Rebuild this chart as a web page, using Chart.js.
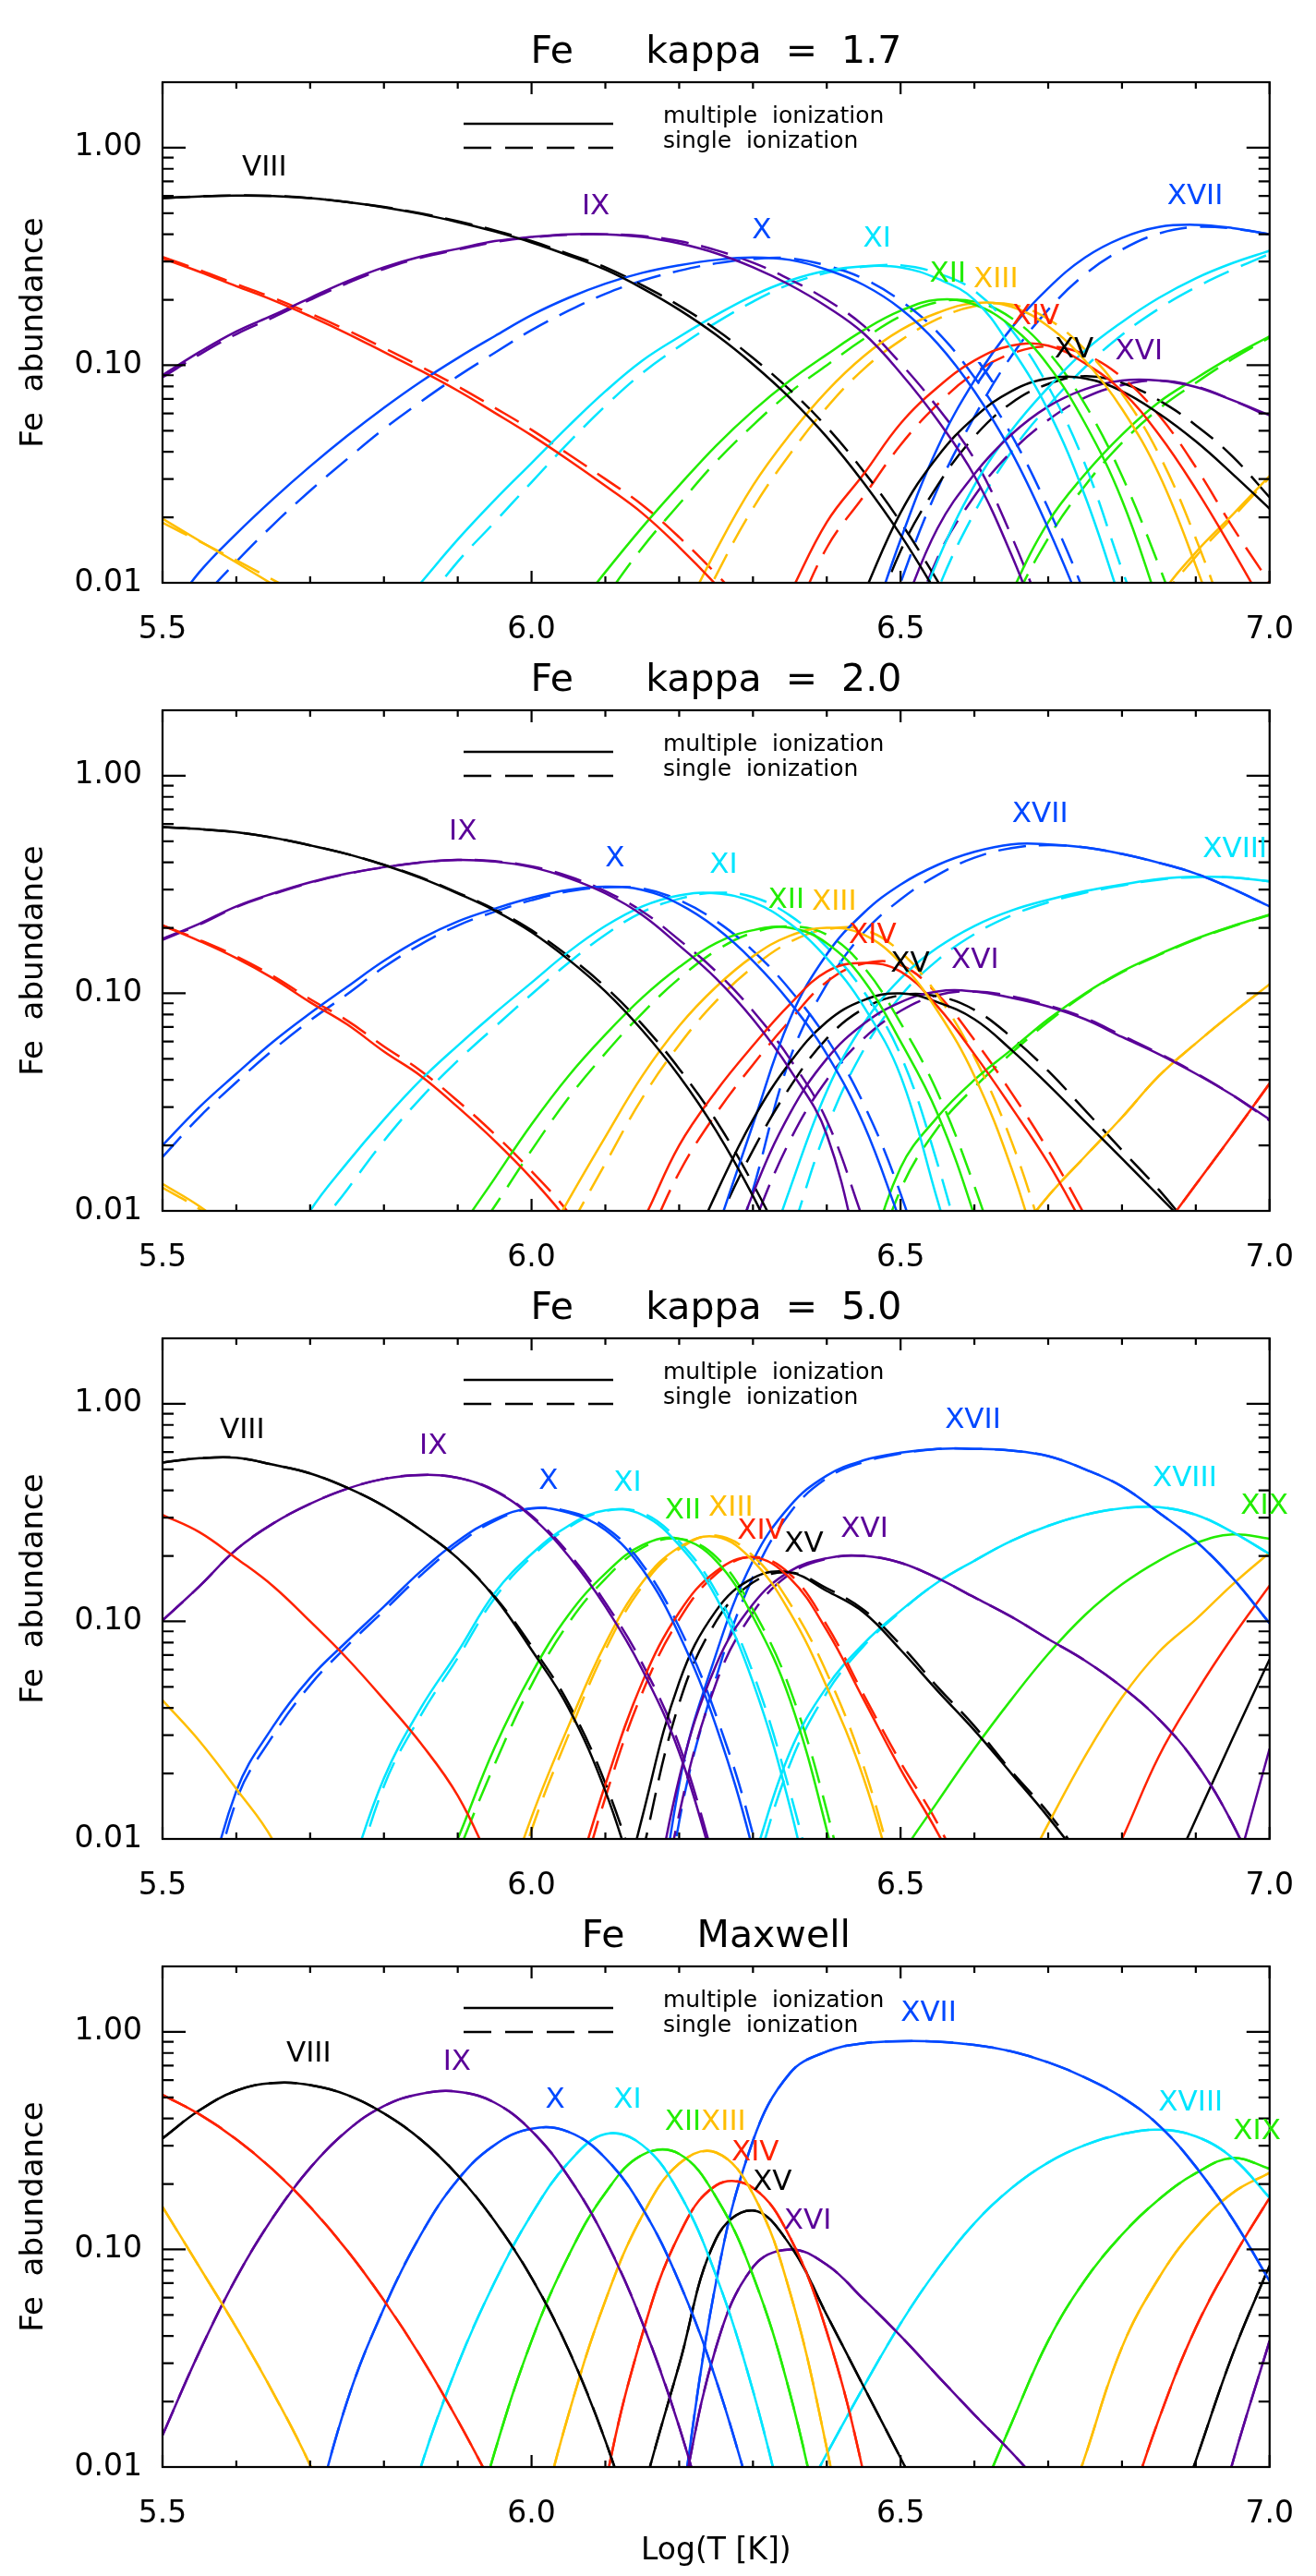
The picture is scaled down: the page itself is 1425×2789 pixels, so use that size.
<!DOCTYPE html>
<html>
<head>
<meta charset="utf-8">
<title>Fe ionization equilibrium</title>
<script src="https://cdn.jsdelivr.net/npm/chart.js@4.4.1/dist/chart.umd.min.js"></script>
<style>
  body { margin: 0; background: #fff; }
  #panels { position: relative; width: 1425px; height: 2789px; overflow: hidden; }
  #panels canvas { position: absolute; left: 0; }
</style>
</head>
<body>
<div id="panels"></div>
<script>
// temperature grid (log T), every curve below is sampled on it
const logT = [5.50, 5.55, 5.60, 5.65, 5.70, 5.75, 5.80, 5.85, 5.90, 5.95, 6.00, 6.05, 6.10, 6.15, 6.20, 6.25,
              6.30, 6.35, 6.40, 6.45, 6.50, 6.55, 6.60, 6.65, 6.70, 6.75, 6.80, 6.85, 6.90, 6.95, 7.00];

// axis ticks
const xTicks = [5.5, 5.6, 5.7, 5.8, 5.9, 6.0, 6.1, 6.2, 6.3, 6.4, 6.5, 6.6, 6.7, 6.8, 6.9, 7.0];
const xLabelTicks = [5.5, 6.0, 6.5, 7.0];
const xLabelText = ['5.5', '6.0', '6.5', '7.0'];
const yTicks = [0.01, 0.02, 0.03, 0.04, 0.05, 0.06, 0.07, 0.08, 0.09,
                0.1, 0.2, 0.3, 0.4, 0.5, 0.6, 0.7, 0.8, 0.9, 1, 2];
const yLabelTicks = [0.01, 0.1, 1];
const yLabelText = ['0.01', '0.10', '1.00'];

// ions and their colours
const ionNames  = ['VI', 'VII', 'VIII', 'IX', 'X', 'XI', 'XII', 'XIII', 'XIV', 'XV', 'XVI', 'XVII', 'XVIII', 'XIX', 'XX', 'XXI', 'XXII', 'XXIII'];
const ionColors = ['#ffbe00', '#ff2200', '#000000', '#5a0098', '#0048ff', '#00e5ff', '#22ec00',
                   '#ffbe00', '#ff2200', '#000000', '#5a0098', '#0048ff', '#00e5ff', '#22ec00',
                   '#ffbe00', '#ff2200', '#000000', '#5a0098'];

// rows: [ion, first log T, abundances every 0.05 dex]
// kappa = 1.7
const k17Multiple = [
  ['VI',   5.50, [0.0197, 0.0156, 0.0124, 0.0098, 0.0077]],
  ['VII',  5.50, [0.310, 0.269, 0.231, 0.199, 0.168, 0.140, 0.115, 0.0944, 0.0764, 0.0605, 0.0476, 0.0367, 0.0279, 0.0209, 0.0146, 0.0098, 0.0063]],
  ['VIII', 5.50, [0.586, 0.597, 0.603, 0.600, 0.586, 0.562, 0.532, 0.496, 0.455, 0.412, 0.367, 0.320, 0.275, 0.226, 0.180, 0.138, 0.101, 0.0708, 0.0468, 0.0288, 0.0166, 0.0088, 0.0044]],
  ['IX',   5.50, [0.090, 0.115, 0.143, 0.170, 0.204, 0.243, 0.282, 0.316, 0.343, 0.372, 0.389, 0.400, 0.400, 0.389, 0.363, 0.327, 0.282, 0.234, 0.186, 0.140, 0.092, 0.056, 0.031, 0.0135, 0.0050]],
  ['X',    5.50, [0.0066, 0.0112, 0.0168, 0.0243, 0.0343, 0.0473, 0.0638, 0.0841, 0.108, 0.136, 0.170, 0.204, 0.237, 0.266, 0.288, 0.305, 0.313, 0.305, 0.275, 0.234, 0.182, 0.126, 0.076, 0.040, 0.0178, 0.0071]],
  ['XI',   5.85, [0.0100, 0.0158, 0.024, 0.0355, 0.0525, 0.0759, 0.105, 0.135, 0.170, 0.209, 0.245, 0.272, 0.285, 0.282, 0.250, 0.200, 0.120, 0.062, 0.025, 0.0079]],
  ['XII',  6.05, [0.0068, 0.0112, 0.018, 0.028, 0.0427, 0.0617, 0.085, 0.112, 0.145, 0.178, 0.200, 0.190, 0.151, 0.100, 0.054, 0.024, 0.0079]],
  ['XIII', 6.20, [0.0065, 0.0141, 0.028, 0.048, 0.076, 0.110, 0.145, 0.174, 0.193, 0.186, 0.151, 0.105, 0.063, 0.0316, 0.0120, 0.0040]],
  ['XIV',  6.35, [0.0089, 0.019, 0.0316, 0.054, 0.079, 0.105, 0.123, 0.123, 0.102, 0.076, 0.048, 0.027, 0.0141, 0.0071]],
  ['XV',   6.45, [0.0089, 0.021, 0.038, 0.0575, 0.076, 0.087, 0.087, 0.076, 0.060, 0.0447, 0.0316, 0.0219]],
  ['XVI',  6.50, [0.0071, 0.0178, 0.0316, 0.048, 0.0646, 0.0776, 0.085, 0.085, 0.0794, 0.069, 0.0589]],
  ['XVII', 6.45, [0.0050, 0.0158, 0.0417, 0.0851, 0.148, 0.226, 0.313, 0.385, 0.432, 0.442, 0.427, 0.400]],
  ['XVIII',6.50, [0.0045, 0.0126, 0.028, 0.050, 0.079, 0.117, 0.158, 0.204, 0.251, 0.295, 0.336]],
  ['XIX',  6.60, [0.0035, 0.0089, 0.019, 0.0316, 0.048, 0.0676, 0.087, 0.110, 0.136]],
  ['XX',   6.80, [0.0040, 0.0085, 0.0138, 0.0206, 0.031]]
];
const k17Single = [
  ['VI',   5.50, [0.0189, 0.0155, 0.0127, 0.0103, 0.0084, 0.0068]],
  ['VII',  5.50, [0.315, 0.274, 0.236, 0.204, 0.173, 0.145, 0.120, 0.0985, 0.080, 0.0638, 0.0505, 0.039, 0.030, 0.0228, 0.0162, 0.0110, 0.0072]],
  ['VIII', 5.50, [0.586, 0.597, 0.603, 0.600, 0.587, 0.563, 0.534, 0.499, 0.459, 0.417, 0.372, 0.325, 0.282, 0.233, 0.188, 0.146, 0.108, 0.077, 0.052, 0.0325, 0.0190, 0.0102, 0.0052]],
  ['IX',   5.50, [0.088, 0.112, 0.139, 0.166, 0.200, 0.238, 0.277, 0.312, 0.340, 0.368, 0.387, 0.398, 0.400, 0.393, 0.372, 0.338, 0.296, 0.248, 0.200, 0.152, 0.102, 0.064, 0.037, 0.0165, 0.0062]],
  ['X',    5.50, [0.0046, 0.0081, 0.0125, 0.0185, 0.0265, 0.037, 0.051, 0.068, 0.089, 0.114, 0.145, 0.178, 0.213, 0.245, 0.272, 0.294, 0.308, 0.310, 0.287, 0.250, 0.198, 0.142, 0.088, 0.048, 0.022, 0.0088, 0.0030]],
  ['XI',   5.85, [0.0076, 0.0125, 0.019, 0.029, 0.044, 0.065, 0.092, 0.122, 0.157, 0.196, 0.236, 0.266, 0.284, 0.288, 0.265, 0.220, 0.146, 0.080, 0.035, 0.0115, 0.0040]],
  ['XII',  6.05, [0.0048, 0.0085, 0.0145, 0.023, 0.036, 0.053, 0.075, 0.100, 0.132, 0.168, 0.195, 0.196, 0.165, 0.115, 0.066, 0.031, 0.0120, 0.0042]],
  ['XIII', 6.20, [0.0048, 0.0108, 0.022, 0.039, 0.064, 0.096, 0.130, 0.163, 0.187, 0.190, 0.163, 0.118, 0.074, 0.039, 0.0160, 0.0055]],
  ['XIV',  6.35, [0.0062, 0.0145, 0.025, 0.043, 0.066, 0.092, 0.113, 0.122, 0.112, 0.088, 0.059, 0.034, 0.0180, 0.0100]],
  ['XV',   6.45, [0.0050, 0.014, 0.028, 0.047, 0.067, 0.082, 0.089, 0.083, 0.069, 0.053, 0.038, 0.0247]],
  ['XVI',  6.50, [0.0045, 0.013, 0.025, 0.040, 0.056, 0.071, 0.081, 0.085, 0.080, 0.069, 0.058]],
  ['XVII', 6.45, [0.0030, 0.0100, 0.027, 0.058, 0.110, 0.180, 0.262, 0.340, 0.403, 0.432, 0.425, 0.400]],
  ['XVIII',6.50, [0.0030, 0.0092, 0.021, 0.040, 0.065, 0.098, 0.138, 0.182, 0.228, 0.275, 0.325]],
  ['XIX',  6.60, [0.0025, 0.0075, 0.016, 0.028, 0.044, 0.063, 0.083, 0.107, 0.134]],
  ['XX',   6.80, [0.0037, 0.0080, 0.0132, 0.0200, 0.0305]]
];

// kappa = 2.0
const k20Multiple = [
  ['VI',   5.50, [0.0133, 0.0105, 0.0078]],
  ['VII',  5.50, [0.205, 0.174, 0.145, 0.117, 0.091, 0.072, 0.054, 0.0417, 0.030, 0.021, 0.0141, 0.0089, 0.0050]],
  ['VIII', 5.50, [0.581, 0.569, 0.550, 0.519, 0.479, 0.437, 0.389, 0.339, 0.288, 0.240, 0.191, 0.143, 0.102, 0.0676, 0.0417, 0.0234, 0.0117, 0.0052]],
  ['IX',   5.50, [0.178, 0.209, 0.251, 0.288, 0.324, 0.355, 0.380, 0.400, 0.410, 0.403, 0.380, 0.339, 0.288, 0.229, 0.166, 0.117, 0.076, 0.0447, 0.0224, 0.0050]],
  ['X',    5.50, [0.020, 0.030, 0.0427, 0.060, 0.081, 0.107, 0.141, 0.178, 0.214, 0.245, 0.275, 0.299, 0.309, 0.299, 0.257, 0.200, 0.141, 0.091, 0.0525, 0.025, 0.0089]],
  ['XI',   5.65, [0.0050, 0.0100, 0.0166, 0.0263, 0.040, 0.0575, 0.081, 0.112, 0.155, 0.204, 0.251, 0.282, 0.288, 0.263, 0.209, 0.145, 0.087, 0.0417, 0.0112, 0.0030]],
  ['XII',  5.85, [0.0040, 0.0079, 0.0141, 0.025, 0.0417, 0.0646, 0.0955, 0.132, 0.170, 0.195, 0.200, 0.170, 0.115, 0.060, 0.028, 0.0095, 0.0025]],
  ['XIII', 6.00, [0.0055, 0.0112, 0.0219, 0.0417, 0.0708, 0.107, 0.148, 0.184, 0.200, 0.186, 0.138, 0.083, 0.0417, 0.0158, 0.0045]],
  ['XIV',  6.10, [0.0045, 0.0089, 0.020, 0.0355, 0.0575, 0.089, 0.126, 0.138, 0.126, 0.087, 0.0525, 0.030, 0.0166, 0.0083]],
  ['XV',   6.20, [0.0050, 0.0120, 0.0263, 0.048, 0.074, 0.093, 0.100, 0.091, 0.076, 0.055, 0.038, 0.0257, 0.0174, 0.0117, 0.0079]],
  ['XVI',  6.25, [0.0040, 0.0120, 0.028, 0.050, 0.0724, 0.091, 0.102, 0.102, 0.0955, 0.087, 0.076, 0.063, 0.0525, 0.0427, 0.034, 0.0263]],
  ['XVII', 6.20, [0.0025, 0.0079, 0.025, 0.076, 0.151, 0.234, 0.316, 0.389, 0.447, 0.484, 0.484, 0.468, 0.437, 0.398, 0.355, 0.302, 0.251]],
  ['XVIII',6.30, [0.0040, 0.0126, 0.0355, 0.0724, 0.117, 0.162, 0.204, 0.240, 0.269, 0.295, 0.316, 0.335, 0.343, 0.341, 0.327]],
  ['XIX',  6.45, [0.0050, 0.0158, 0.027, 0.040, 0.055, 0.076, 0.100, 0.126, 0.151, 0.178, 0.204, 0.230]],
  ['XX',   6.65, [0.0071, 0.0117, 0.0178, 0.0269, 0.0417, 0.0589, 0.0813, 0.110]],
  ['XXI',  6.85, [0.0078, 0.0132, 0.0224, 0.0385]]
];
const k20Single = [
  ['VI',   5.50, [0.0128, 0.0102, 0.0076]],
  ['VII',  5.50, [0.205, 0.176, 0.148, 0.120, 0.094, 0.075, 0.057, 0.044, 0.032, 0.0225, 0.0152, 0.0098, 0.0055]],
  ['VIII', 5.50, [0.581, 0.569, 0.550, 0.519, 0.479, 0.437, 0.390, 0.341, 0.290, 0.243, 0.195, 0.148, 0.107, 0.072, 0.045, 0.026, 0.0133, 0.0062]],
  ['IX',   5.50, [0.176, 0.207, 0.249, 0.286, 0.322, 0.354, 0.379, 0.400, 0.410, 0.405, 0.383, 0.345, 0.295, 0.238, 0.176, 0.126, 0.083, 0.050, 0.026, 0.0090]],
  ['X',    5.50, [0.0177, 0.027, 0.039, 0.055, 0.075, 0.099, 0.132, 0.168, 0.205, 0.237, 0.268, 0.294, 0.307, 0.303, 0.268, 0.215, 0.157, 0.104, 0.062, 0.031, 0.0120, 0.0035]],
  ['XI',   5.65, [0.0035, 0.0074, 0.0125, 0.021, 0.033, 0.049, 0.070, 0.099, 0.138, 0.186, 0.236, 0.272, 0.290, 0.277, 0.228, 0.163, 0.102, 0.052, 0.0165, 0.0040]],
  ['XII',  5.85, [0.0030, 0.0060, 0.0105, 0.019, 0.033, 0.053, 0.081, 0.117, 0.157, 0.190, 0.203, 0.186, 0.132, 0.073, 0.035, 0.0130, 0.0040]],
  ['XIII', 6.00, [0.0040, 0.0082, 0.0165, 0.033, 0.058, 0.092, 0.132, 0.172, 0.197, 0.196, 0.155, 0.098, 0.051, 0.021, 0.0065]],
  ['XIV',  6.10, [0.0030, 0.0065, 0.015, 0.028, 0.047, 0.075, 0.113, 0.137, 0.135, 0.099, 0.061, 0.035, 0.019, 0.0095, 0.0045]],
  ['XV',   6.20, [0.0035, 0.0085, 0.019, 0.037, 0.062, 0.085, 0.098, 0.097, 0.084, 0.063, 0.044, 0.029, 0.019, 0.0125, 0.0078]],
  ['XVI',  6.25, [0.0030, 0.0085, 0.021, 0.040, 0.062, 0.083, 0.098, 0.102, 0.097, 0.088, 0.077, 0.064, 0.053, 0.043, 0.034, 0.026]],
  ['XVII', 6.25, [0.0035, 0.0125, 0.050, 0.110, 0.190, 0.270, 0.350, 0.420, 0.465, 0.480, 0.468, 0.437, 0.398, 0.355, 0.302, 0.251]],
  ['XVIII',6.30, [0.0025, 0.0075, 0.024, 0.055, 0.097, 0.142, 0.187, 0.228, 0.262, 0.290, 0.313, 0.333, 0.342, 0.341, 0.327]],
  ['XIX',  6.45, [0.0040, 0.0125, 0.024, 0.037, 0.053, 0.074, 0.099, 0.125, 0.150, 0.177, 0.203, 0.229]],
  ['XX',   6.65, [0.0071, 0.0117, 0.0178, 0.0269, 0.0417, 0.0589, 0.0813, 0.110]],
  ['XXI',  6.85, [0.0078, 0.0132, 0.0224, 0.0385]]
];

// kappa = 5.0
const k50Multiple = [
  ['VI',   5.50, [0.0434, 0.0282, 0.0170, 0.0098, 0.0040]],
  ['VII',  5.50, [0.309, 0.257, 0.195, 0.145, 0.100, 0.0676, 0.0437, 0.0275, 0.0158, 0.0071]],
  ['VIII', 5.50, [0.537, 0.562, 0.565, 0.525, 0.479, 0.412, 0.339, 0.263, 0.195, 0.129, 0.074, 0.040, 0.0166, 0.0050]],
  ['IX',   5.50, [0.101, 0.145, 0.214, 0.282, 0.347, 0.407, 0.452, 0.471, 0.457, 0.398, 0.302, 0.200, 0.117, 0.060, 0.025, 0.0070]],
  ['X',    5.55, [0.0040, 0.0166, 0.033, 0.055, 0.081, 0.117, 0.170, 0.234, 0.295, 0.331, 0.316, 0.263, 0.174, 0.087, 0.033, 0.0089, 0.0016]],
  ['XI',   5.75, [0.0063, 0.019, 0.040, 0.0724, 0.135, 0.204, 0.275, 0.324, 0.309, 0.224, 0.129, 0.0525, 0.0141, 0.0025]],
  ['XII',  5.85, [0.0040, 0.0100, 0.0263, 0.0575, 0.107, 0.166, 0.224, 0.240, 0.190, 0.105, 0.0437, 0.0110, 0.0020]],
  ['XIII', 5.95, [0.0040, 0.0126, 0.033, 0.079, 0.151, 0.219, 0.245, 0.190, 0.110, 0.050, 0.019, 0.0050]],
  ['XIV',  6.05, [0.0050, 0.0178, 0.0525, 0.110, 0.170, 0.197, 0.158, 0.091, 0.0437, 0.0209, 0.0107, 0.0050]],
  ['XV',   6.10, [0.0025, 0.0126, 0.0525, 0.112, 0.158, 0.168, 0.138, 0.110, 0.074, 0.048, 0.0316, 0.0200, 0.0126, 0.0076]],
  ['XVI',  6.15, [0.0025, 0.019, 0.063, 0.120, 0.170, 0.195, 0.200, 0.186, 0.158, 0.129, 0.105, 0.083, 0.066, 0.050, 0.0355, 0.0224, 0.0117, 0.0050]],
  ['XVII', 6.15, [0.0010, 0.0178, 0.0708, 0.190, 0.339, 0.468, 0.550, 0.596, 0.621, 0.621, 0.610, 0.575, 0.500, 0.417, 0.316, 0.234, 0.158, 0.098]],
  ['XVIII',6.25, [0.0025, 0.0079, 0.025, 0.050, 0.079, 0.112, 0.151, 0.190, 0.234, 0.275, 0.309, 0.331, 0.335, 0.309, 0.257, 0.204]],
  ['XIX',  6.45, [0.0040, 0.0083, 0.0148, 0.026, 0.0437, 0.0708, 0.107, 0.148, 0.190, 0.229, 0.251, 0.240]],
  ['XX',   6.65, [0.0055, 0.0117, 0.024, 0.0447, 0.0724, 0.102, 0.148, 0.207]],
  ['XXI',  6.75, [0.0045, 0.0100, 0.024, 0.0468, 0.085, 0.146]],
  ['XXII', 6.85, [0.0052, 0.0123, 0.029, 0.067]],
  ['XXIII',6.95, [0.0063, 0.026]]
];
const k50Single = [
  ['VIII', 5.50, [0.537, 0.562, 0.565, 0.525, 0.479, 0.412, 0.339, 0.263, 0.195, 0.130, 0.077, 0.042, 0.018, 0.0058]],
  ['IX',   5.50, [0.101, 0.145, 0.214, 0.282, 0.347, 0.407, 0.452, 0.471, 0.457, 0.400, 0.306, 0.206, 0.122, 0.064, 0.027, 0.0075]],
  ['X',    5.55, [0.0030, 0.015, 0.030, 0.051, 0.077, 0.112, 0.163, 0.226, 0.290, 0.330, 0.320, 0.271, 0.183, 0.094, 0.037, 0.0105, 0.0018]],
  ['XI',   5.75, [0.0050, 0.0175, 0.037, 0.068, 0.128, 0.198, 0.270, 0.322, 0.315, 0.233, 0.137, 0.058, 0.0165, 0.0035]],
  ['XII',  5.85, [0.0030, 0.0085, 0.022, 0.051, 0.098, 0.157, 0.218, 0.240, 0.198, 0.113, 0.049, 0.0135, 0.0025]],
  ['XIII', 5.95, [0.0030, 0.0110, 0.030, 0.074, 0.145, 0.215, 0.248, 0.200, 0.121, 0.058, 0.0215, 0.0055]],
  ['XIV',  6.05, [0.0040, 0.0155, 0.047, 0.102, 0.165, 0.198, 0.165, 0.096, 0.046, 0.0225, 0.0118, 0.0052]],
  ['XV',   6.10, [0.0015, 0.0085, 0.042, 0.100, 0.151, 0.168, 0.142, 0.113, 0.078, 0.050, 0.033, 0.0205, 0.0132, 0.0078]],
  ['XVI',  6.15, [0.0015, 0.013, 0.052, 0.110, 0.165, 0.194, 0.200, 0.186, 0.158, 0.129, 0.105, 0.083, 0.066, 0.050, 0.0355, 0.0224, 0.0117, 0.0050]],
  ['XVII', 6.15, [0.0008, 0.012, 0.055, 0.160, 0.315, 0.455, 0.540, 0.590, 0.621, 0.621, 0.610, 0.575, 0.500, 0.417, 0.316, 0.234, 0.158, 0.098]],
  ['XVIII',6.25, [0.0018, 0.0065, 0.022, 0.047, 0.077, 0.111, 0.151, 0.190, 0.234, 0.275, 0.309, 0.331, 0.335, 0.309, 0.257, 0.204]]
];

// Maxwellian: single and multiple ionization coincide
const maxwellFractions = [
  ['VI',   5.50, [0.157, 0.083, 0.0437, 0.0219, 0.0102, 0.0040]],
  ['VII',  5.50, [0.514, 0.418, 0.321, 0.232, 0.157, 0.0991, 0.0583, 0.0321, 0.0164, 0.0079]],
  ['VIII', 5.50, [0.324, 0.436, 0.537, 0.582, 0.569, 0.513, 0.422, 0.320, 0.219, 0.135, 0.0741, 0.0347, 0.0132, 0.0040]],
  ['IX',   5.50, [0.014, 0.0339, 0.0741, 0.141, 0.237, 0.351, 0.457, 0.519, 0.531, 0.473, 0.351, 0.216, 0.111, 0.0462, 0.0153, 0.0039]],
  ['X',    5.70, [0.0050, 0.020, 0.0537, 0.117, 0.209, 0.302, 0.359, 0.347, 0.263, 0.155, 0.0708, 0.0251, 0.0069]],
  ['XI',   5.80, [0.0025, 0.0100, 0.0295, 0.0708, 0.145, 0.251, 0.339, 0.302, 0.182, 0.0759, 0.0224, 0.0048]],
  ['XII',  5.90, [0.0028, 0.0117, 0.038, 0.0933, 0.182, 0.272, 0.275, 0.174, 0.0759, 0.0219, 0.0040]],
  ['XIII', 6.00, [0.0040, 0.0174, 0.0582, 0.143, 0.248, 0.279, 0.180, 0.0638, 0.0122, 0.0016]],
  ['XIV',  6.05, [0.0008, 0.0083, 0.0407, 0.117, 0.197, 0.192, 0.114, 0.0418, 0.0093, 0.0012]],
  ['XV',   6.10, [0.0015, 0.0074, 0.0295, 0.112, 0.151, 0.105, 0.050, 0.0234, 0.0110, 0.0051]],
  ['XVI',  6.20, [0.0063, 0.0355, 0.083, 0.100, 0.085, 0.059, 0.040, 0.0263, 0.0174, 0.0117, 0.0076]],
  ['XVII', 6.20, [0.0056, 0.0708, 0.316, 0.646, 0.813, 0.887, 0.906, 0.902, 0.871, 0.813, 0.724, 0.617, 0.501, 0.372, 0.240, 0.138, 0.0715]],
  ['XVIII',6.35, [0.0055, 0.0115, 0.0234, 0.0457, 0.0813, 0.132, 0.191, 0.251, 0.302, 0.339, 0.355, 0.331, 0.263, 0.173]],
  ['XIX',  6.60, [0.0063, 0.0158, 0.038, 0.0724, 0.117, 0.170, 0.224, 0.263, 0.235]],
  ['XX',   6.70, [0.0035, 0.0112, 0.0355, 0.074, 0.126, 0.182, 0.225]],
  ['XXI',  6.80, [0.0052, 0.0166, 0.0437, 0.091, 0.173]],
  ['XXII', 6.85, [0.0035, 0.0107, 0.033, 0.0845]],
  ['XXIII',6.90, [0.0025, 0.0105, 0.038]]
];

// ion labels: [text, log T, abundance]
const k17Labels = [['VIII', 5.638, 0.81], ['IX', 6.087, 0.535], ['X', 6.312, 0.415], ['XI', 6.468, 0.38],
  ['XII', 6.564, 0.262], ['XIII', 6.629, 0.247], ['XIV', 6.683, 0.167], ['X', 6.615, 0.090],
  ['XV', 6.735, 0.117], ['XVI', 6.823, 0.115], ['XVII', 6.899, 0.596]];
const k20Labels = [['IX', 5.907, 0.551], ['X', 6.113, 0.415], ['XI', 6.260, 0.388], ['XII', 6.345, 0.267],
  ['XIII', 6.410, 0.262], ['XIV', 6.462, 0.184], ['XV', 6.513, 0.136], ['XVI', 6.601, 0.142],
  ['XVII', 6.689, 0.664], ['XVIII', 6.953, 0.457]];
const k50Labels = [['VIII', 5.608, 0.753], ['IX', 5.867, 0.638], ['X', 6.023, 0.438], ['XI', 6.130, 0.431],
  ['XII', 6.205, 0.321], ['XIII', 6.270, 0.331], ['XIV', 6.311, 0.26], ['XV', 6.369, 0.226],
  ['XVI', 6.451, 0.265], ['XVII', 6.598, 0.839], ['XVIII', 6.885, 0.451], ['XIX', 6.993, 0.338]];
const maxwellLabels = [['VIII', 5.698, 0.79], ['IX', 5.899, 0.725], ['X', 6.032, 0.486], ['XI', 6.130, 0.486],
  ['XII', 6.205, 0.383], ['XIII', 6.260, 0.383], ['XIV', 6.303, 0.279], ['XV', 6.326, 0.203],
  ['XVI', 6.374, 0.135], ['XVII', 6.538, 1.216], ['XVIII', 6.893, 0.473], ['XIX', 6.983, 0.348]];

// === Setup ===
const FONT = "'DejaVu Sans', 'Liberation Sans', sans-serif";
Chart.defaults.font.family = FONT;
Chart.defaults.color = '#000';

const container = document.getElementById('panels');

function ionColor(name) {
    return ionColors[ionNames.indexOf(name)];
}

function toPoints(row) {
    const k0 = logT.indexOf(row[1]);
    return row[2].map((v, i) => ({ x: logT[k0 + i], y: v }));
}

function makeDataset(row, dashed) {
    return {
        data: toPoints(row),
        borderColor: ionColor(row[0]),
        borderWidth: 2.5,
        borderDash: dashed ? [30, 14] : [],
        pointRadius: 0,
        fill: false,
        tension: 0.4,
        clip: 0
    };
}

// frame, inward ticks, title, legend key and ion labels
function decorPlugin(title, labels) {
    return {
        id: 'decor',
        afterDatasetsDraw(chart) {
            const { ctx, chartArea: { left, right, top, bottom }, scales: { x, y } } = chart;
            ctx.save();
            ctx.strokeStyle = '#000';
            ctx.lineWidth = 2.2;
            ctx.setLineDash([]);
            ctx.strokeRect(left, top, right - left, bottom - top);

            ctx.beginPath();
            x.ticks.forEach(t => {
                const px = x.getPixelForValue(t.value);
                const len = xLabelTicks.includes(t.value) ? 13 : 7;
                ctx.moveTo(px, bottom); ctx.lineTo(px, bottom - len);
                ctx.moveTo(px, top); ctx.lineTo(px, top + len);
            });
            y.ticks.forEach(t => {
                const py = y.getPixelForValue(t.value);
                const len = yLabelTicks.includes(t.value) ? 25 : 12;
                ctx.moveTo(left, py); ctx.lineTo(left + len, py);
                ctx.moveTo(right, py); ctx.lineTo(right - len, py);
            });
            ctx.stroke();

            // title
            ctx.fillStyle = '#000';
            ctx.textAlign = 'center';
            ctx.textBaseline = 'alphabetic';
            ctx.font = `41px ${FONT}`;
            ctx.fillText(title, (left + right) / 2, top - 21);

            // line style key
            ctx.lineWidth = 2.5;
            ctx.beginPath();
            ctx.moveTo(left + 326, top + 45); ctx.lineTo(left + 488, top + 45);
            ctx.stroke();
            ctx.setLineDash([30, 15]);
            ctx.beginPath();
            ctx.moveTo(left + 326, top + 71); ctx.lineTo(left + 488, top + 71);
            ctx.stroke();
            ctx.setLineDash([]);
            ctx.textAlign = 'left';
            ctx.textBaseline = 'middle';
            ctx.font = `25px ${FONT}`;
            ctx.fillText('multiple  ionization', left + 542, top + 37);
            ctx.fillText('single  ionization', left + 542, top + 64);

            // ion labels
            ctx.textAlign = 'center';
            ctx.font = `31px ${FONT}`;
            labels.forEach(([text, t, v]) => {
                ctx.fillStyle = ionColor(text);
                ctx.fillText(text, x.getPixelForValue(t), y.getPixelForValue(v));
            });
            ctx.restore();
        }
    };
}

function buildPanel(index, title, multiple, single, labels) {
    const last = index === 3;
    const height = last ? 749 : 720;
    const canvas = document.createElement('canvas');
    canvas.width = 1425;
    canvas.height = height;
    canvas.style.top = (680 * index) + 'px';
    container.appendChild(canvas);

    const datasets = multiple.map(r => makeDataset(r, false))
        .concat(single.map(r => makeDataset(r, true)));

    const tickFont = { size: 33 };

    new Chart(canvas, {
        type: 'line',
        data: { datasets },
        plugins: [decorPlugin(title, labels)],
        options: {
            responsive: false,
            animation: false,
            devicePixelRatio: 1,
            parsing: false,
            layout: { padding: { top: 89, right: 28, left: 0, bottom: 0 } },
            plugins: { legend: { display: false }, tooltip: { enabled: false } },
            scales: {
                x: {
                    type: 'linear',
                    min: 5.5,
                    max: 7.0,
                    afterFit: s => { s.height = height - 631; },
                    afterBuildTicks: s => { s.ticks = xTicks.map(v => ({ value: v })); },
                    grid: { display: false },
                    border: { display: false },
                    ticks: {
                        autoSkip: false,
                        maxRotation: 0,
                        padding: 24,
                        font: tickFont,
                        callback: v => {
                            const k = xLabelTicks.indexOf(v);
                            return k < 0 ? '' : xLabelText[k];
                        }
                    },
                    title: {
                        display: last,
                        text: 'Log(T [K])',
                        font: { size: 33 },
                        padding: { top: 0, bottom: 7 }
                    }
                },
                y: {
                    type: 'logarithmic',
                    min: 0.01,
                    max: 2,
                    afterFit: s => { s.width = 176; },
                    afterBuildTicks: s => { s.ticks = yTicks.map(v => ({ value: v })); },
                    grid: { display: false },
                    border: { display: false },
                    ticks: {
                        autoSkip: false,
                        padding: 14,
                        font: tickFont,
                        callback: v => {
                            const k = yLabelTicks.indexOf(v);
                            return k < 0 ? '' : yLabelText[k];
                        }
                    },
                    title: {
                        display: true,
                        text: 'Fe  abundance',
                        font: { size: 34 },
                        padding: { top: 17, bottom: 0 }
                    }
                }
            }
        }
    });
}

// === INIT ===
buildPanel(0, 'Fe      kappa  =  1.7', k17Multiple, k17Single, k17Labels);
buildPanel(1, 'Fe      kappa  =  2.0', k20Multiple, k20Single, k20Labels);
buildPanel(2, 'Fe      kappa  =  5.0', k50Multiple, k50Single, k50Labels);
buildPanel(3, 'Fe      Maxwell', maxwellFractions, maxwellFractions, maxwellLabels);
</script>
</body>
</html>
